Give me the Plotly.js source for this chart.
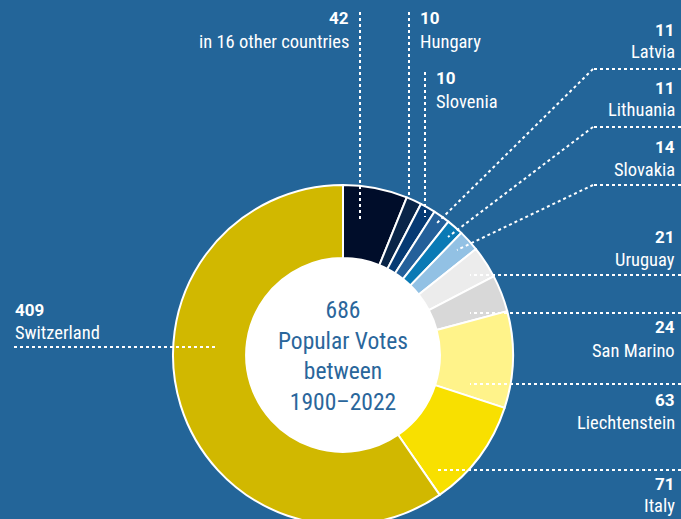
<!DOCTYPE html>
<html><head><meta charset="utf-8">
<script src="https://cdn.plot.ly/plotly-3.0.1.min.js"></script>
<style>html,body{margin:0;padding:0;overflow:hidden;background:#236599;}#c{width:681px;height:531px;}</style>
</head><body><div id="c"></div>
<script>
const countries = ["in 16 other countries","Hungary","Slovenia","Latvia","Lithuania","Slovakia","Uruguay","San Marino","Liechtenstein","Italy","Switzerland"];
const votes = [42,10,10,11,11,14,21,24,63,71,409];
const colors = ["#000d2a","#0a2548","#063a73","#24609a","#0a7ab5","#92c1e4","#ececec","#d8d8d8","#fff38a","#f8e000","#d1b800"];
const centerLines = ["686","Popular Votes","between","1900–2022"];

const W = 681, H = 531;
const FONT = "'Roboto Condensed','DejaVu Sans Condensed','Liberation Sans Narrow',Roboto,sans-serif";
const NUMFONT = "Roboto,'Noto Sans',sans-serif";
const px = x => x / W;
const py = y => 1 - y / H;

// pie geometry (pixels)
const cx = 343, cy = 355, R = 170;

// label layout: [index, x, yNum, yName, anchor]
const labelPos = [
  [0, 351, 18, 42, "right"],
  [1, 418, 18, 42, "left"],
  [2, 434, 78, 102, "left"],
  [3, 677, 30, 52, "right"],
  [4, 677, 88, 110, "right"],
  [5, 677, 147, 170, "right"],
  [6, 677, 237, 260, "right"],
  [7, 677, 327, 351, "right"],
  [8, 677, 400, 423, "right"],
  [9, 677, 484, 506, "right"],
  [10, 13, 310, 333, "left"]
];
// leader polylines in pixels
const leaders = [
  [[360,12],[360,222]],
  [[409,12],[409,198]],
  [[425,72],[425,217]],
  [[681,69],[593,69],[437,223]],
  [[681,127],[593,127],[448,237]],
  [[681,185],[593,185],[457,250]],
  [[681,275],[470,275]],
  [[681,313],[470,313]],
  [[681,384],[470,384]],
  [[681,470],[438,470]],
  [[14,347],[218,347]]
];

const annotations = [];
labelPos.forEach(([i,x,yn,yl,anc]) => {
  annotations.push({xref:"paper",yref:"paper",x:px(x),y:py(yn),xanchor:anc,yanchor:"middle",showarrow:false,
    text:"<b>"+votes[i]+"</b>",font:{family:NUMFONT,size:17,color:"#ffffff"}});
  annotations.push({xref:"paper",yref:"paper",x:px(x),y:py(yl),xanchor:anc,yanchor:"middle",showarrow:false,
    text:countries[i],font:{family:FONT,size:18.5,color:"#ffffff"}});
});
annotations.push({xref:"paper",yref:"paper",x:px(cx),y:py(356),xanchor:"center",yanchor:"middle",showarrow:false,
  text:centerLines.join("<br>"),font:{family:FONT,size:23.5,color:"#2a669b"}});

const shapes = [];
leaders.forEach(pts => {
  for (let k=0;k<pts.length-1;k++){
    shapes.push({type:"line",xref:"paper",yref:"paper",x0:px(pts[k][0]),y0:py(pts[k][1]),x1:px(pts[k+1][0]),y1:py(pts[k+1][1]),
      line:{color:"#ffffff",width:2,dash:"dot"},layer:"above"});
  }
});

const trace = {
  type:"pie", labels:countries, values:votes, sort:false, direction:"clockwise", rotation:0,
  hole:0.57, textinfo:"none", hoverinfo:"none",
  marker:{colors:colors,line:{color:"#ffffff",width:2}},
  domain:{x:[px(cx-R),px(cx+R)], y:[py(cy+R),py(cy-R)]},
  showlegend:false
};
// white hole fill
shapes.unshift({type:"circle",xref:"paper",yref:"paper",x0:px(cx-R*0.57),x1:px(cx+R*0.57),y0:py(cy+R*0.57),y1:py(cy-R*0.57),
  fillcolor:"#ffffff",line:{width:0},layer:"below"});

Plotly.newPlot("c",[trace],{
  width:W,height:H,margin:{l:0,r:0,t:0,b:0},
  paper_bgcolor:"#236599",plot_bgcolor:"#236599",
  annotations:annotations,shapes:shapes,showlegend:false
},{displayModeBar:false,staticPlot:true});
</script></body></html>
